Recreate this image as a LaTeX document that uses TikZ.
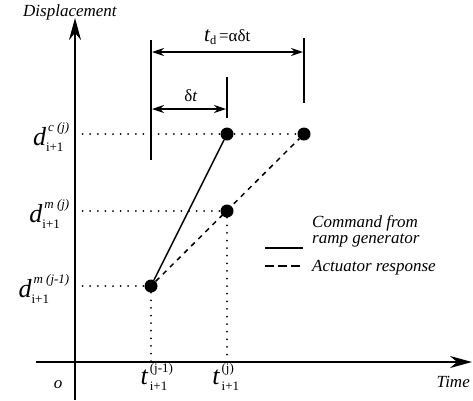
\documentclass[tikz,border=0pt]{standalone}
\usepackage{amsmath}
\usepackage{fontspec}
\setmainfont{Liberation Serif}
\usetikzlibrary{arrows.meta}
\DeclareMathSizes{26}{26}{13}{10}
\DeclareMathSizes{20}{20}{12}{9}

\begin{document}
\begin{tikzpicture}[x=1pt,y=-1pt,
  axis/.style={line width=1.8pt,-{Stealth[length=22pt,width=12pt]}},
  bar/.style={line width=1.6pt},
  dim/.style={line width=1.6pt,{Stealth[length=12pt,width=8pt]}-{Stealth[length=12pt,width=8pt]}},
  guide/.style={line width=2pt,line cap=round,dash pattern=on 0pt off 7.6pt},
  ramp/.style={line width=1.5pt},
  resp/.style={line width=1.5pt,dash pattern=on 5pt off 5pt},
  pt/.style={circle,fill,inner sep=0pt,minimum size=13pt},
  lbl/.style={font=\fontsize{17}{16}\selectfont\itshape,inner sep=0pt},
  big/.style={font=\fontsize{26}{26}\selectfont,inner sep=0pt}]
  \useasboundingbox (0,0) rectangle (473,400);
  % axes
  \coordinate (ybot) at (75,400);
  \coordinate (ytop) at (75,18);
  \coordinate (xleft) at (36,362);
  \coordinate (xright) at (472,362);
  \draw[axis] (ybot) -- (ytop);
  \draw[axis] (xleft) -- (xright);
  % levels on the axes
  \coordinate (yc) at (75,134);
  \coordinate (ym) at (75,211);
  \coordinate (yl) at (75,286);
  \coordinate (xl) at (151,362);
  \coordinate (xm) at (227,362);
  % ramp points
  \node[pt] (p0) at (151,286) {};
  \node[pt] (p1) at (227,134) {};
  \node[pt] (p2) at (227,211) {};
  \node[pt] (p3) at (304,134) {};
  % dotted guides
  \draw[guide] (yc) -- (p3);
  \draw[guide] (ym) -- (p2);
  \draw[guide] (yl) -- (p0);
  \draw[guide] (p0) -- (xl);
  \draw[guide] (p2) -- (xm);
  % command and response
  \draw[ramp] (p0) -- (p1);
  \draw[resp] (p0) -- (p3);
  % time markers
  \coordinate (b0t) at (151,40);
  \coordinate (b0b) at (151,160);
  \coordinate (b1t) at (227,77);
  \coordinate (b1b) at (227,118);
  \coordinate (b2t) at (304,38);
  \coordinate (b2b) at (304,103);
  \draw[bar] (b0t) -- (b0b);
  \draw[bar] (b1t) -- (b1b);
  \draw[bar] (b2t) -- (b2b);
  \coordinate (a0l) at (152,52);
  \coordinate (a0r) at (303,52);
  \coordinate (a1l) at (152,109);
  \coordinate (a1r) at (226,109);
  \draw[dim] (a0l) -- (a0r);
  \draw[dim] (a1l) -- (a1r);
  \node[inner sep=0pt,anchor=base west,font=\fontsize{17}{17}\selectfont] (td) at (204,41)
    {{\fontsize{21}{21}\selectfont\itshape t}\raisebox{-3pt}{\fontsize{12.5}{12.5}\selectfont d}\,=αδt};
  \node[inner sep=0pt,anchor=base,font=\fontsize{17}{17}\selectfont] (dt) at (191,101) {δ\textit{t}};
  % axis labels
  \node[lbl,anchor=base west] (ylab) at (23,16) {Displacement};
  \node[lbl,anchor=base east] (xlab) at (470,387) {Time};
  \node[lbl,anchor=base] (orig) at (58,388) {o};
  \node[big,anchor=east] (dc) at (70,137) {$\textit{d}^{\,\textit{c (j)}}_{\textrm{i+1}}$};
  \node[big,anchor=east] (dm) at (70,214) {$\textit{d}^{\,\textit{m (j)}}_{\textrm{i+1}}$};
  \node[big,anchor=east] (dl) at (70,289) {$\textit{d}^{\,\textit{m (j-1)}}_{\textrm{i+1}}$};
  \node[big,anchor=north] (tl) at (157,363) {$\textit{t}^{\,\textrm{\raisebox{2pt}{(j-1)}}}_{\,\textrm{i+1}}$};
  \node[big,anchor=north] (tm) at (226,363) {$\textit{t}^{\,\textrm{\raisebox{2pt}{(j)}}}_{\,\textrm{i+1}}$};
  % legend
  \coordinate (lg0) at (265,248);
  \coordinate (lg1) at (303,248);
  \coordinate (lg2) at (265,266);
  \coordinate (lg3) at (303,266);
  \draw[ramp] (lg0) -- (lg1);
  \draw[resp,dash pattern=on 9pt off 4pt] (lg2) -- (lg3);
  \node[lbl,anchor=base west,align=left] (lgc) at (312,243) {Command from\\ramp generator};
  \node[lbl,anchor=base west] (lgr) at (312,271) {Actuator response};
\end{tikzpicture}
\end{document}
